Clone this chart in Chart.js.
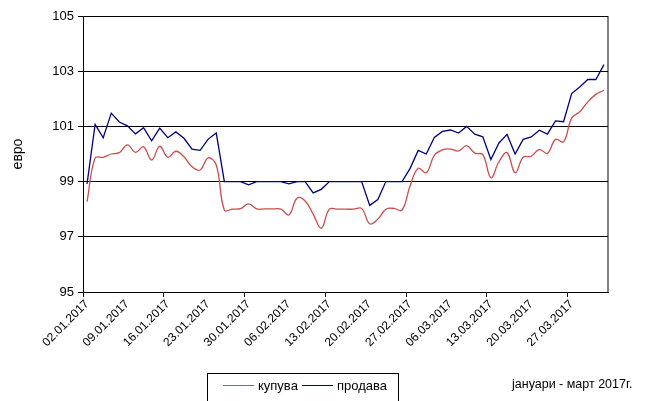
<!DOCTYPE html>
<html lang="mk">
<head>
<meta charset="UTF-8">
<title>купува / продава</title>
<script src="https://cdn.jsdelivr.net/npm/chart.js"></script>
<style>
    body { margin: 0; background: #fff; font-family: 'Liberation Sans', Arial, sans-serif; }
    .wrap { position: relative; width: 653px; height: 401px; overflow: hidden; }
    .legend-box {
        position: absolute; left: 207px; top: 373px; width: 192px; height: 40px;
        border: 1px solid #000; box-sizing: border-box;
        font-size: 13px; color: #000;
    }
    .legend-item { position: absolute; top: 4px; display: flex; align-items: center; }
    .legend-item span.line { display: inline-block; width: 31px; height: 0; margin-right: 4px; }
    .period { position: absolute; left: 512px; top: 377px; font-size: 12.5px; color: #000; }
</style>
</head>
<body>
<div class="wrap">
    <canvas id="chart" width="653" height="401"></canvas>
    <div class="legend-box">
        <div class="legend-item" style="left:15px"><span class="line" style="border-top:1.5px solid #cc4c4c"></span>купува</div>
        <div class="legend-item" style="left:94px"><span class="line" style="border-top:1.5px solid #000080"></span>продава</div>
    </div>
    <div class="period">јануари - март 2017г.</div>
</div>

<script>
    // business days, January - March 2017
    const dates = [
        "02.01.2017", "03.01.2017", "04.01.2017", "05.01.2017", "06.01.2017",
        "09.01.2017", "10.01.2017", "11.01.2017", "12.01.2017", "13.01.2017",
        "16.01.2017", "17.01.2017", "18.01.2017", "19.01.2017", "20.01.2017",
        "23.01.2017", "24.01.2017", "25.01.2017", "26.01.2017", "27.01.2017",
        "30.01.2017", "31.01.2017", "01.02.2017", "02.02.2017", "03.02.2017",
        "06.02.2017", "07.02.2017", "08.02.2017", "09.02.2017", "10.02.2017",
        "13.02.2017", "14.02.2017", "15.02.2017", "16.02.2017", "17.02.2017",
        "20.02.2017", "21.02.2017", "22.02.2017", "23.02.2017", "24.02.2017",
        "27.02.2017", "28.02.2017", "01.03.2017", "02.03.2017", "03.03.2017",
        "06.03.2017", "07.03.2017", "08.03.2017", "09.03.2017", "10.03.2017",
        "13.03.2017", "14.03.2017", "15.03.2017", "16.03.2017", "17.03.2017",
        "20.03.2017", "21.03.2017", "22.03.2017", "23.03.2017", "24.03.2017",
        "27.03.2017", "28.03.2017", "29.03.2017", "30.03.2017", "31.03.2017"
    ];

    const kupuva = [
        98.27, 99.86, 99.88, 100.0, 100.05,
        100.33, 100.06, 100.26, 99.78, 100.28,
        99.88, 100.1, 99.9, 99.54, 99.42,
        99.86, 99.6, 97.97, 98.0, 98.02,
        98.19, 98.01, 98.01, 98.01, 98.0,
        97.79, 98.4, 98.3, 97.82, 97.31,
        98.0, 98.0, 98.0, 98.0, 98.03,
        97.47, 97.64, 98.0, 98.03, 97.97,
        98.85, 99.48, 99.32, 99.95, 100.15,
        100.18, 100.11, 100.3, 100.03, 99.98,
        99.14, 99.72, 100.05, 99.32, 99.88,
        99.92, 100.17, 100.02, 100.53, 100.44,
        101.3, 101.53, 101.89, 102.16, 102.31
    ];

    const prodava = [
        98.92, 101.07, 100.59, 101.48, 101.16,
        101.02, 100.73, 100.95, 100.48, 100.94,
        100.59, 100.8, 100.57, 100.18, 100.13,
        100.54, 100.76, 99.0, 99.0, 99.0,
        98.88, 99.0, 99.0, 99.0, 99.0,
        98.92, 99.0, 99.0, 98.59, 98.72,
        99.0, 99.0, 99.0, 99.0, 99.0,
        98.14, 98.35, 99.0, 99.0, 99.0,
        99.48, 100.13, 100.0, 100.6, 100.82,
        100.87, 100.76, 101.0, 100.72, 100.62,
        99.8, 100.4, 100.71, 100.0, 100.53,
        100.62, 100.86, 100.72, 101.2, 101.17,
        102.19, 102.43, 102.7, 102.7, 103.24
    ];

    const yMin = 95;
    const yMax = 105;
    const yStep = 2;

    // closes the plot frame on the right side
    const frame = {
        id: 'frame',
        afterDraw(chart) {
            const a = chart.chartArea;
            const ctx = chart.ctx;
            ctx.save();
            ctx.strokeStyle = '#000';
            ctx.lineWidth = 1;
            ctx.strokeRect(a.left + 0.5, a.top + 0.5, a.right - a.left - 0.5, a.bottom - a.top);
            ctx.restore();
        }
    };

    new Chart(document.getElementById('chart'), {
        type: 'line',
        data: {
            labels: dates,
            datasets: [
                {
                    label: 'купува',
                    data: kupuva,
                    borderColor: '#cc4c4c',
                    borderWidth: 1.3,
                    pointRadius: 0,
                    tension: 0.4,
                    fill: false
                },
                {
                    label: 'продава',
                    data: prodava,
                    borderColor: '#000080',
                    borderWidth: 1.3,
                    pointRadius: 0,
                    tension: 0,
                    fill: false
                }
            ]
        },
        options: {
            responsive: false,
            animation: false,
            devicePixelRatio: 1,
            layout: { padding: { top: 16, right: 45, left: 0, bottom: 0 } },
            plugins: { legend: { display: false }, tooltip: { enabled: false } },
            scales: {
                x: {
                    offset: true,
                    afterFit: s => { s.height = 109; },
                    grid: {
                        offset: true,
                        drawOnChartArea: false,
                        tickLength: 5,
                        color: ctx => ctx.index % 10 === 0 ? '#000' : 'rgba(0,0,0,0)'
                    },
                    border: { color: '#000', width: 1 },
                    ticks: {
                        autoSkip: false,
                        minRotation: 45,
                        maxRotation: 45,
                        padding: 0,
                        color: '#000',
                        font: { family: "'Liberation Sans', Arial, sans-serif", size: 12 },
                        callback: (v, i) => i % 5 === 0 ? dates[i] : ''
                    }
                },
                y: {
                    min: yMin,
                    max: yMax,
                    afterFit: s => { s.width = 83; },
                    grid: { color: '#000', lineWidth: 1, tickLength: 5 },
                    border: { color: '#000', width: 1 },
                    ticks: {
                        stepSize: yStep,
                        padding: 4,
                        color: '#000',
                        font: { family: "'Liberation Sans', Arial, sans-serif", size: 13 }
                    },
                    title: {
                        display: true,
                        text: 'евро',
                        color: '#000',
                        padding: { top: 10, bottom: 0 },
                        font: { family: "'Liberation Sans', Arial, sans-serif", size: 14 }
                    }
                }
            }
        },
        plugins: [frame]
    });
</script>
</body>
</html>
